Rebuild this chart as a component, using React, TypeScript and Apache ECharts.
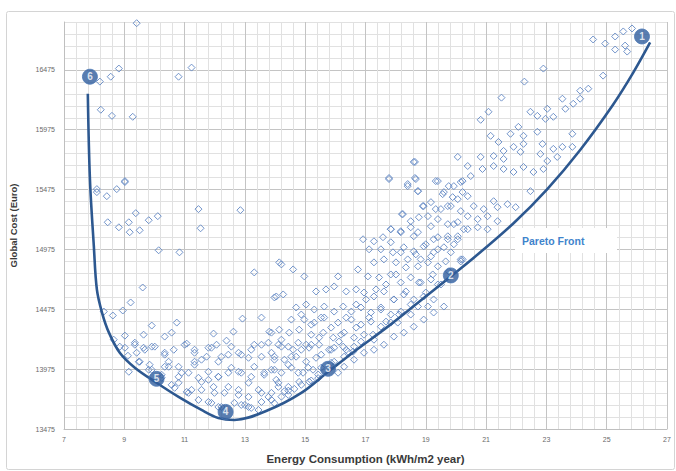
import React, { useEffect, useRef } from "react";
import * as echarts from "echarts";

// Axis ranges / ticks
const xMin = 7;
const xMax = 27;
const xMajor = 2;
const yMin = 13475;
const yMax = 16875;
const yLabelStep = 500;

const xTitle = "Energy Consumption (kWh/m2 year)";
const yTitle = "Global Cost (Euro)";
const frontLabel = "Pareto Front";

// Pareto front curve (energy, cost)
const frontEnergy = [7.79, 7.86, 7.99, 8.09, 8.26, 8.49, 8.85, 9.35, 10.07, 10.8, 11.56, 12.12, 12.65, 13.78, 14.87, 15.76, 16.62, 17.74, 18.83, 19.83, 20.49, 21.91, 23.03, 24.12, 25.21, 25.88, 26.44];
const frontCost = [16276, 15563, 15001, 14641, 14448, 14280, 14112, 13987, 13861, 13743, 13634, 13567, 13550, 13634, 13777, 13953, 14121, 14330, 14548, 14750, 14884, 15194, 15479, 15806, 16184, 16452, 16704];

// Numbered solutions on the front
const markerIds = ["1", "2", "3", "4", "5", "6"];
const markerEnergy = [26.17, 19.83, 15.76, 12.36, 10.07, 7.86];
const markerCost = [16754, 14758, 13978, 13618, 13894, 16418];

// Simulated solutions (energy, cost)
const solutions: [number, number][] = [
  [9.41, 16865], [8.19, 16377], [8.55, 16418], [8.82, 16486], [10.8, 16418], [11.23, 16494],
  [8.22, 16142], [8.59, 16091], [9.28, 16083], [9.02, 15546], [8.75, 15479], [8.09, 15479],
  [8.09, 15454], [8.42, 15420], [9.02, 15538], [9.38, 15278], [8.45, 15202], [8.82, 15160],
  [9.15, 15202], [9.18, 15119], [9.51, 15135], [9.81, 15219], [10.11, 15253], [11.46, 15312],
  [12.85, 15303], [11.53, 15152], [10.14, 14968], [10.83, 14951], [13.31, 14783], [9.61, 14657],
  [9.21, 14532], [8.95, 14465], [8.62, 14423], [8.32, 14456], [9.91, 14339], [10.74, 14364],
  [9.64, 14263], [10.34, 14247], [10.57, 14280], [9.02, 14255], [9.35, 14196], [9.02, 14154],
  [9.64, 14154], [9.91, 14163], [9.41, 14112], [11.07, 14188], [11.33, 14137], [10.34, 14112],
  [11.96, 14272], [12.62, 14288], [12.39, 14213], [12.06, 14179], [11.79, 14154], [12.92, 14397],
  [13.55, 14406], [13.98, 14574], [14.14, 14867], [13.81, 14288], [13.31, 14179], [13.78, 14196],
  [9.48, 14037], [9.84, 14012], [10.47, 14037], [10.8, 13995], [11.33, 14037], [11.73, 14079],
  [12.12, 14037], [12.45, 14096], [12.79, 14112], [13.12, 14070], [13.55, 14079], [13.98, 14054],
  [10.8, 13911], [11.13, 13945], [11.46, 13903], [11.79, 13886], [12.12, 13911], [12.45, 13945],
  [12.79, 13953], [13.21, 13911], [13.64, 13945], [14.04, 13886], [10.67, 13819], [11.13, 13777],
  [11.56, 13802], [11.96, 13827], [12.32, 13777], [12.79, 13802], [13.12, 13743], [13.55, 13777],
  [13.88, 13718], [11.46, 13718], [11.79, 13701], [12.12, 13659], [12.65, 13693], [13.12, 13659],
  [13.45, 13634], [10.24, 13928], [10.34, 13995], [9.15, 13953], [13.0, 13676], [14.21, 13745],
  [18.64, 15706], [17.78, 15563], [18.64, 15572], [18.4, 15504], [18.74, 15462], [19.4, 15546],
  [19.93, 15504], [20.22, 15546], [19.6, 15454], [20.06, 15395], [20.39, 15420], [18.93, 15337],
  [19.33, 15312], [19.73, 15337], [18.21, 15270], [18.5, 15211], [18.77, 15244], [19.07, 15253],
  [17.84, 15144], [18.17, 15127], [18.5, 15160], [18.74, 15119], [19.17, 15169], [19.93, 15186],
  [20.26, 15144], [19.4, 15077], [19.73, 15060], [20.06, 15085], [16.92, 15060], [17.28, 15043],
  [17.58, 15077], [17.84, 15035], [17.12, 14976], [17.51, 14976], [17.91, 14951], [18.27, 14993],
  [18.6, 14959], [18.93, 15001], [19.26, 14951], [19.6, 14993], [19.93, 15018], [20.22, 14892],
  [17.28, 14867], [17.61, 14892], [18.01, 14867], [18.4, 14892], [18.74, 14834], [19.07, 14867],
  [19.4, 14834], [14.21, 14850], [14.6, 14808], [14.97, 14750], [16.09, 14750], [16.75, 14808],
  [17.08, 14750], [17.45, 14741], [17.84, 14766], [18.17, 14699], [18.5, 14741], [18.83, 14699],
  [19.17, 14724], [19.5, 14682], [14.04, 14582], [14.27, 14599], [15.36, 14624], [15.69, 14641],
  [15.96, 14666], [16.36, 14624], [16.69, 14641], [16.95, 14615], [17.28, 14582], [17.61, 14624],
  [17.94, 14557], [18.27, 14599], [18.6, 14557], [18.93, 14582], [19.26, 14557], [14.7, 14490],
  [15.03, 14515], [15.3, 14473], [15.63, 14498], [15.96, 14456], [16.26, 14498], [16.53, 14456],
  [16.85, 14490], [17.18, 14448], [17.51, 14473], [17.84, 14431], [18.17, 14456], [18.5, 14431],
  [14.97, 14389], [15.3, 14364], [15.63, 14406], [16.09, 14364], [16.53, 14389], [16.85, 14347],
  [17.18, 14372], [17.51, 14330], [17.84, 14364], [13.88, 14280], [14.14, 14305], [14.47, 14280],
  [14.8, 14305], [15.2, 14263], [15.6, 14280], [15.93, 14238], [16.29, 14280], [16.62, 14238],
  [16.95, 14263], [17.28, 14221], [14.11, 14179], [14.44, 14163], [14.77, 14196], [15.13, 14154],
  [15.46, 14179], [15.86, 14137], [16.26, 14163], [16.59, 14121], [13.98, 14079], [14.31, 14054],
  [14.7, 14079], [15.03, 14037], [15.36, 14070], [13.88, 13970], [14.21, 13945], [14.54, 13987],
  [14.93, 13945], [15.26, 13970], [14.11, 13861], [14.44, 13827], [14.8, 13869], [15.13, 13870],
  [13.88, 13777], [14.31, 13790], [14.64, 13810], [16.29, 13995], [16.62, 14054], [16.95, 14112],
  [17.28, 14137], [17.61, 14179], [17.94, 14247], [18.27, 14280], [18.6, 14330], [18.93, 14389],
  [19.26, 14448], [19.6, 14498], [18.74, 14498], [19.07, 14498], [18.07, 14364], [15.86, 14028],
  [15.53, 13987], [15.43, 13900], [16.09, 13945],
  [24.55, 16729], [24.95, 16695], [25.28, 16754], [25.55, 16796], [25.84, 16821], [25.28, 16645],
  [25.61, 16678], [25.68, 16628], [22.9, 16486], [22.27, 16377], [24.88, 16427], [21.51, 16243],
  [20.82, 16058], [21.08, 16125], [22.47, 16125], [22.7, 16091], [23.03, 16150], [23.23, 16083],
  [23.53, 16234], [23.63, 16150], [23.89, 16192], [24.12, 16301], [24.39, 16318], [24.12, 16234],
  [22.97, 16066], [22.07, 15999], [22.7, 15958], [23.86, 15941], [21.15, 15924], [21.41, 15873],
  [21.81, 15941], [22.24, 15924], [21.58, 15798], [21.91, 15832], [22.24, 15857], [22.87, 15857],
  [23.23, 15815], [23.53, 15832], [23.86, 15832], [20.06, 15748], [20.82, 15748], [21.25, 15756],
  [21.58, 15731], [22.14, 15790], [22.8, 15773], [23.03, 15714], [23.36, 15748], [20.39, 15672],
  [20.88, 15647], [21.25, 15672], [21.58, 15647], [21.91, 15622], [22.24, 15664], [22.57, 15622],
  [22.9, 15647], [18.6, 15706], [17.78, 15572], [18.4, 15521], [18.67, 15563], [19.33, 15546],
  [19.76, 15504], [20.16, 15538], [20.49, 15588], [18.74, 15462], [19.56, 15437], [19.89, 15412],
  [20.22, 15454], [22.47, 15462], [21.25, 15378], [18.24, 15270], [18.9, 15337], [19.17, 15370],
  [19.5, 15312], [19.83, 15337], [20.16, 15295], [20.59, 15337], [20.92, 15312], [21.38, 15328],
  [21.71, 15353], [21.98, 15328], [20.39, 15253], [20.72, 15228], [21.05, 15253], [21.38, 15211],
  [19.4, 15228], [19.73, 15186], [20.06, 15203], [20.39, 15144], [20.72, 15160], [21.05, 15144],
  [17.84, 15144], [18.17, 15119], [18.6, 15085], [19.26, 15060], [19.73, 15085], [20.06, 15060],
  [19.4, 14976], [19.83, 14951], [20.16, 14892], [18.17, 14951], [18.83, 14892], [19.17, 14917],
  // dense lower band
  [9.35, 14179], [9.68, 14137], [10.01, 14163], [10.34, 14096], [10.64, 14137], [11.0, 14179],
  [11.33, 14112], [11.56, 14054], [11.89, 14154], [12.22, 14079], [12.55, 14163], [12.88, 14096],
  [13.21, 14137], [13.55, 14179], [13.88, 14112], [14.21, 14163], [14.54, 14079], [14.87, 14137],
  [15.2, 14179], [15.53, 14096], [15.96, 14154], [16.29, 14079], [16.62, 14163],
  [9.91, 13970], [10.47, 13995], [10.9, 13945], [11.33, 14012], [11.79, 13953], [12.12, 13911],
  [12.55, 13987], [12.88, 13945], [13.31, 13995], [13.64, 13928], [13.98, 13970], [14.44, 14012],
  [14.77, 13945], [15.1, 13987], [15.43, 13930], [15.96, 14037], [16.42, 14121],
  [10.8, 13861], [11.23, 13802], [11.56, 13869], [11.99, 13777], [12.45, 13827], [12.79, 13760],
  [13.12, 13861], [13.45, 13802], [13.78, 13743], [14.11, 13827], [14.44, 13795], [14.87, 13844],
  [15.2, 13880],
  [11.89, 13693], [12.22, 13659], [12.88, 13676], [13.21, 13651], [13.55, 13701], [13.98, 13690],
  [14.44, 13760],
  [16.36, 14137], [16.85, 14205], [17.25, 14263], [17.68, 14372], [18.11, 14431], [18.5, 14515],
  [19.0, 14615], [19.4, 14682], [19.76, 14792], [20.16, 14875],
  [16.19, 14263], [16.69, 14322], [17.12, 14406], [17.51, 14490], [17.94, 14557], [18.34, 14624],
  [18.77, 14699], [19.23, 14766], [19.66, 14875],
  [14.54, 14389], [14.87, 14431], [15.2, 14347], [15.53, 14406], [15.86, 14322], [16.36, 14406],
  [16.69, 14515], [17.02, 14557], [17.35, 14641], [17.68, 14682], [18.01, 14766], [18.34, 14825],
  [18.67, 14934], [19.0, 15018],
  [14.21, 14221], [14.6, 14137], [15.03, 14179], [15.46, 14238], [15.79, 14137], [16.12, 14205],
  [8.65, 14221], [8.85, 14163], [9.12, 14087], [9.51, 14037], [9.81, 13970], [10.24, 13903],
  [10.57, 13844], [11.07, 13785]
];

const FONT = "'Liberation Sans', Arial, sans-serif";

export default function App() {
  const ref = useRef<HTMLDivElement>(null);

  useEffect(() => {
    if (!ref.current) return;
    const chart = echarts.init(ref.current, null, { renderer: "svg" });

    const frontData = frontEnergy.map((x, i) => [x, frontCost[i]]);
    const markerData = markerEnergy.map((x, i) => ({ value: [x, markerCost[i]], name: markerIds[i] }));

    const yGridColors: string[] = [];
    for (let v = yMin; v <= yMax; v += 100) {
      yGridColors.push((v - yMin) % yLabelStep === 0 ? "#c4c4c4" : "#e1e1e1");
    }

    chart.setOption({
      animation: false,
      backgroundColor: "#ffffff",
      textStyle: { fontFamily: FONT },
      grid: { left: 62, right: 9, top: 22, bottom: 42, containLabel: false },
      xAxis: {
        type: "value",
        min: xMin,
        max: xMax,
        interval: xMajor,
        name: xTitle,
        nameLocation: "middle",
        nameGap: 24,
        nameTextStyle: { fontFamily: FONT, fontSize: 11.5, fontWeight: "bold", color: "#3a3a3a" },
        axisLine: { show: true, lineStyle: { color: "#bfbfbf", width: 1 } },
        axisTick: { show: false },
        axisLabel: { fontSize: 7, color: "#6a6a6a", margin: 7, fontFamily: FONT },
        splitLine: { show: true, lineStyle: { color: "#c4c4c4", width: 1 } },
        minorTick: { show: false, splitNumber: 5 },
        minorSplitLine: { show: true, lineStyle: { color: "#e1e1e1", width: 1 } },
      },
      yAxis: {
        type: "value",
        min: yMin,
        max: yMax,
        interval: 100,
        name: yTitle,
        nameLocation: "middle",
        nameGap: 46,
        nameTextStyle: { fontFamily: FONT, fontSize: 9.5, fontWeight: "bold", color: "#3a3a3a" },
        axisLine: { show: true, lineStyle: { color: "#bfbfbf", width: 1 } },
        axisTick: { show: false },
        axisLabel: {
          fontSize: 7,
          color: "#6a6a6a",
          margin: 9,
          fontFamily: FONT,
          formatter: (v: number) => (Math.round(v - yMin) % yLabelStep === 0 ? String(Math.round(v)) : ""),
        },
        splitLine: { show: true, lineStyle: { color: yGridColors, width: 1 } },
      },
      series: [
        {
          type: "scatter",
          data: solutions,
          symbol: "diamond",
          symbolSize: [7, 7],
          itemStyle: { color: "rgba(255,255,255,0)", borderColor: "#6388c4", borderWidth: 1, opacity: 0.9 },
          z: 2,
        },
        {
          type: "line",
          data: frontData,
          smooth: 0.35,
          showSymbol: false,
          symbol: "none",
          lineStyle: { color: "#2d5890", width: 2.6 },
          z: 3,
        },
        {
          type: "scatter",
          data: markerData,
          symbol: "circle",
          symbolSize: 15,
          itemStyle: { color: "#2f5d9c", borderColor: "#4b78b5", borderWidth: 1 },
          label: {
            show: true,
            position: "inside",
            formatter: (p: any) => p.name,
            color: "#ffffff",
            fontSize: 10,
            fontWeight: "bold",
            fontFamily: FONT,
          },
          z: 4,
        },
      ],
      graphic: [
        {
          type: "rect",
          left: 4,
          top: 9,
          shape: { x: 0, y: 0, width: 668, height: 458, r: 2 },
          style: { fill: "none", stroke: "#d4d4d4", lineWidth: 1 },
          silent: true,
          z: -1,
        },
        {
          type: "rect",
          left: 515,
          top: 228,
          shape: { x: 0, y: 0, width: 102, height: 25 },
          style: { fill: "#ffffff", stroke: "none" },
          silent: true,
          z: 50,
        },
        {
          type: "text",
          left: 522,
          top: 235,
          style: {
            text: frontLabel,
            fill: "#3f84cc",
            fontSize: 10.5,
            fontWeight: "bold",
            fontFamily: FONT,
          },
          silent: true,
          z: 51,
        },
      ],
    });

    return () => chart.dispose();
  }, []);

  return (
    <div
      ref={ref}
      style={{ position: "absolute", left: 0, top: 0, width: 676, height: 471 }}
    />
  );
}
